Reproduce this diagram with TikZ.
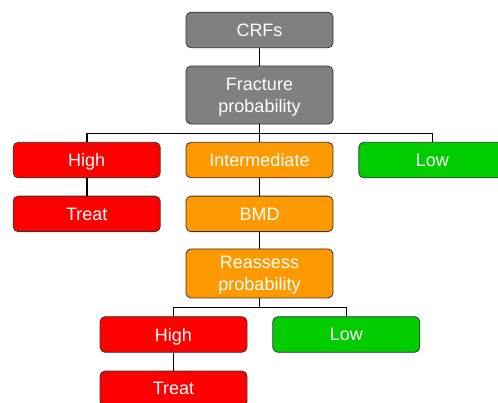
\documentclass[tikz,border=0pt]{standalone}
\usepackage{fontspec}
\setmainfont{Liberation Sans}
\usetikzlibrary{positioning}
\definecolor{boxgray}{RGB}{128,128,128}
\definecolor{boxred}{RGB}{255,0,0}
\definecolor{boxorange}{RGB}{255,153,0}
\definecolor{boxgreen}{RGB}{0,204,0}
\tikzset{
  riskbox/.style={draw=black!80, line width=0.8pt, rounded corners=5pt, align=center,
    text=white, font=\fontsize{18}{22}\selectfont, minimum height=35.5pt,
    minimum width=147pt, inner sep=2pt, text depth=0pt},
  riskline/.style={line width=1.6pt}
}

\begin{document}
\begin{tikzpicture}[node distance=17.5pt and 25pt]
    \useasboundingbox (0,0) rectangle (498pt,-403pt);
    \node[riskbox, fill=boxgray] (crfs) at (259.5pt,-30pt) {CRFs};
    \node[riskbox, below=of crfs, fill=boxgray, minimum height=58pt] (frac) {Fracture\\probability};
    \node[riskbox, below=of frac, fill=boxorange] (inter) {Intermediate};
    \node[riskbox, left=of inter, fill=boxred] (high) {High};
    \node[riskbox, right=of inter, fill=boxgreen] (low) {Low};
    \node[riskbox, below=of high, fill=boxred] (treat) {Treat};
    \node[riskbox, below=of inter, fill=boxorange] (bmd) {BMD};
    \node[riskbox, below=16.5pt of bmd, fill=boxorange, minimum height=49pt] (reassess) {Reassess\\probability};
    \node[riskbox, below=18pt of reassess, xshift=-86pt, fill=boxred] (high2) {High};
    \node[riskbox, right=of high2, fill=boxgreen] (low2) {Low};
    \node[riskbox, below=18pt of high2, fill=boxred] (treat2) {Treat};
    \draw[riskline] (crfs) -- (frac);
    \draw[riskline] (frac) -- (inter);
    \draw[riskline] (frac.south) -- ++(0,-9pt) -| (high);
    \draw[riskline] (frac.south) -- ++(0,-9pt) -| (low);
    \draw[riskline] (high) -- (treat);
    \draw[riskline] (inter) -- (bmd);
    \draw[riskline] (bmd) -- (reassess);
    \draw[riskline] (reassess.south) -- ++(0,-9pt) -| (high2);
    \draw[riskline] (reassess.south) -- ++(0,-9pt) -| (low2);
    \draw[riskline] (high2) -- (treat2);
  \end{tikzpicture}
\end{document}
